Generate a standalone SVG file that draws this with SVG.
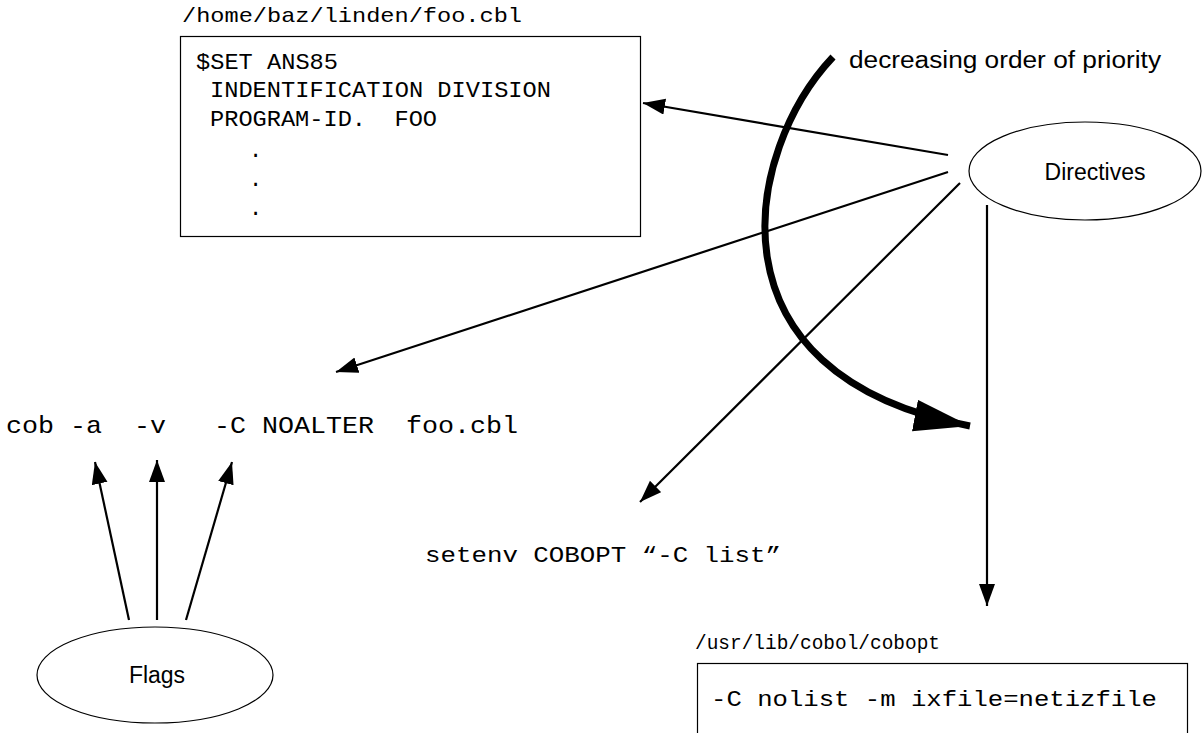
<svg xmlns="http://www.w3.org/2000/svg" width="1202" height="733" viewBox="0 0 1202 733">
  <style>
    .mono { font-family: "Liberation Mono", "Courier New", monospace; fill: #000; }
    .sans { font-family: "Liberation Sans", Arial, sans-serif; fill: #000; }
    .box { fill: #fff; stroke: #000; stroke-width: 1.2; }
    .oval { fill: #fff; stroke: #000; stroke-width: 1.2; }
    .edge { fill: none; stroke: #000; stroke-width: 2.2; marker-end: url(#head); }
  </style>
  <defs>
    <marker id="head" markerUnits="userSpaceOnUse" markerWidth="24" markerHeight="18" refX="22" refY="8" orient="auto">
      <path d="M0,0 L22,8 L0,16 z" fill="#000"/>
    </marker>
    <marker id="bighead" markerUnits="userSpaceOnUse" markerWidth="60" markerHeight="36" refX="56" refY="16" orient="auto">
      <path d="M0,0 L56,16 L0,32 z" fill="#000"/>
    </marker>
  </defs>

  <rect width="1202" height="733" fill="#fff"/>

  <!-- source file -->
  <g id="source-file">
    <text class="mono" x="182" y="22" font-size="21" textLength="340" lengthAdjust="spacingAndGlyphs">/home/baz/linden/foo.cbl</text>
    <rect class="box" x="180.5" y="36.5" width="460" height="200"/>
    <text class="mono" x="196" y="69" font-size="22" textLength="142" lengthAdjust="spacingAndGlyphs">$SET ANS85</text>
    <text class="mono" x="210" y="97" font-size="22" textLength="341" lengthAdjust="spacingAndGlyphs">INDENTIFICATION DIVISION</text>
    <text class="mono" x="210" y="126" font-size="22" textLength="227" lengthAdjust="spacingAndGlyphs" xml:space="preserve">PROGRAM-ID.  FOO</text>
    <text class="mono" x="249" y="157" font-size="22">.</text>
    <text class="mono" x="249" y="186" font-size="22">.</text>
    <text class="mono" x="249" y="215" font-size="22">.</text>
  </g>

  <!-- command line -->
  <g id="command-line">
    <text class="mono" x="6" y="433" font-size="24" textLength="512" lengthAdjust="spacingAndGlyphs" xml:space="preserve">cob -a  -v   -C NOALTER  foo.cbl</text>
  </g>

  <!-- environment variable -->
  <g id="env-var">
    <text class="mono" x="425" y="562" font-size="22" textLength="356" lengthAdjust="spacingAndGlyphs">setenv COBOPT “-C list”</text>
  </g>

  <!-- options file -->
  <g id="options-file">
    <text class="mono" x="695" y="649" font-size="20" textLength="245" lengthAdjust="spacingAndGlyphs">/usr/lib/cobol/cobopt</text>
    <rect class="box" x="697.5" y="663.5" width="490" height="80"/>
    <text class="mono" x="711" y="706" font-size="22" textLength="446" lengthAdjust="spacingAndGlyphs">-C nolist -m ixfile=netizfile</text>
  </g>

  <!-- directives node -->
  <g id="directives">
    <ellipse class="oval" cx="1085" cy="171" rx="116" ry="49"/>
    <text class="sans" x="1095" y="180" font-size="23" text-anchor="middle">Directives</text>
  </g>

  <!-- flags node -->
  <g id="flags">
    <ellipse class="oval" cx="155" cy="675" rx="118" ry="48"/>
    <text class="sans" x="157" y="683" font-size="23" text-anchor="middle">Flags</text>
  </g>

  <!-- priority label -->
  <g id="priority">
    <text class="sans" x="849" y="68" font-size="23" textLength="312" lengthAdjust="spacingAndGlyphs">decreasing order of priority</text>
  </g>

  <!-- connectors -->
  <g id="connectors">
    <path class="edge" d="M948,155 L643,103"/>
    <path class="edge" d="M948,172 L336,372"/>
    <path class="edge" d="M960,183 L640,502"/>
    <path class="edge" d="M987,205 L987,606"/>
    <path class="edge" d="M129,620 L95,462"/>
    <path class="edge" d="M157,620 L157,460"/>
    <path class="edge" d="M186,620 L232,462"/>
    <path d="M833,57 C745,150 700,375 970,426" fill="none" stroke="#000" stroke-width="7" marker-end="url(#bighead)"/>
  </g>
</svg>
